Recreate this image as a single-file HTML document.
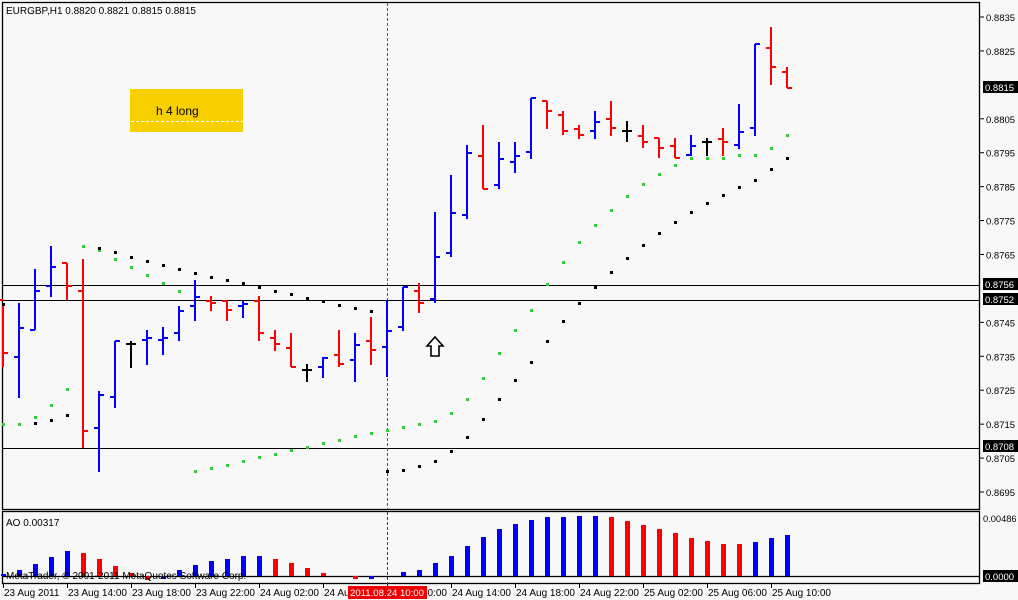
<!DOCTYPE html>
<html><head><meta charset="utf-8"><style>
html,body{margin:0;padding:0;background:#f8f8f8;}
svg{display:block;font-family:"Liberation Sans",sans-serif;font-size:10px;}
</style></head><body>
<svg id="c" width="1018" height="600" xmlns="http://www.w3.org/2000/svg">
<rect x="0" y="0" width="1018" height="600" fill="#f8f8f8"/>
<rect x="2.5" y="2.5" width="977" height="507" fill="none" stroke="#000" stroke-width="1.3"/>
<rect x="2.5" y="511.5" width="977" height="72" fill="none" stroke="#000" stroke-width="1.3"/>
<line x1="2" y1="576.5" x2="980" y2="576.5" stroke="#000" stroke-width="1.3"/>
<line x1="2" y1="285.5" x2="980" y2="285.5" stroke="#000"/>
<line x1="2" y1="300.5" x2="980" y2="300.5" stroke="#000"/>
<line x1="2" y1="448.5" x2="980" y2="448.5" stroke="#000"/>
<line x1="387.5" y1="3" x2="387.5" y2="509" stroke="#555" stroke-dasharray="3,2"/>
<line x1="387.5" y1="512" x2="387.5" y2="590" stroke="#e00" stroke-dasharray="3,2"/>
<text x="6" y="14" fill="#000">EURGBP,H1  0.8820 0.8821 0.8815 0.8815</text>
<rect x="130" y="89" width="113" height="43" fill="#f8d000"/>
<text x="156" y="115" font-size="12" fill="#000">h 4 long</text>
<line x1="131" y1="121.5" x2="243" y2="121.5" stroke="#fff" stroke-dasharray="3,2"/>
<path d="M435 337 L443 346 L439 346 L439 356 L431 356 L431 346 L427 346 Z" fill="#fff" stroke="#000" stroke-width="1.6"/>
<text x="6" y="518" dy="8" fill="#000">AO 0.00317</text>
<g id="bars"></g>
<text x="6" y="579" fill="#000" font-size="10">MetaTrader, © 2001-2011 MetaQuotes Software Corp.</text>
<g id="axis"></g>
<rect x="348" y="586" width="79" height="13" fill="#e00"/>
<text x="350" y="596" fill="#fff" font-size="9.6">2011.08.24 10:00</text>
</svg>
<script>
var NS="http://www.w3.org/2000/svg";
function el(p,t,a,txt){var e=document.createElementNS(NS,t);for(var k in a)e.setAttribute(k,a[k]);if(txt!=null)e.textContent=txt;p.appendChild(e);return e;}
var g=document.getElementById('bars'),ax=document.getElementById('axis');
var B=[[303,367,300,353,'r'],[303,398,357,328,'b'],[269,330,330,291,'b'],[246,297,286,267,'b'],[263,300,263,286,'r'],[259,448,291,431,'r'],[391,472,428,395,'b'],[341,408,397,341,'b'],[341,368,344,344,'k'],[330,365,340,338,'b'],[327,355,340,338,'b'],[306,341,333,311,'b'],[280,321,306,297,'b'],[296,311,301,303,'r'],[301,321,301,310,'r'],[301,318,306,304,'b'],[296,341,301,333,'r'],[330,351,338,344,'r'],[333,367,348,367,'r'],[364,382,370,370,'k'],[357,378,367,358,'b'],[330,367,355,364,'r'],[333,382,360,345,'b'],[317,365,341,350,'r'],[300,377,347,331,'b'],[287,331,327,287,'b'],[283,313,291,303,'r'],[212,303,299,257,'b'],[175,257,253,213,'b'],[145,219,215,153,'b'],[125,189,156,189,'r'],[142,189,185,159,'b'],[142,173,162,156,'b'],[98,159,152,98,'b'],[101,129,101,111,'r'],[111,135,115,131,'r'],[125,139,129,135,'r'],[111,139,131,122,'b'],[101,136,119,128,'r'],[121,142,131,131,'k'],[125,148,136,142,'r'],[138,158,138,148,'r'],[138,158,146,158,'r'],[135,156,155,146,'b'],[138,156,142,142,'k'],[128,156,139,142,'r'],[104,149,145,132,'b'],[44,136,128,44,'b'],[27,85,48,67,'r'],[67,88,72,88,'r']];
var col={r:'#ff0000',b:'#0000ff',k:'#000'};
B.forEach(function(b,i){var x=3+16*i,c=col[b[4]];
el(g,'rect',{x:x-1,y:b[0],width:2,height:b[1]-b[0],fill:c});
el(g,'rect',{x:x-5,y:b[2]-1,width:5,height:2,fill:c});
el(g,'rect',{x:x,y:b[3]-1,width:5,height:2,fill:c});});
var GR=[424,424,417,405,389,246,250,259,267,275,283,291,471,468,465,461,457,454,450,447,443,440,436,433,430,427,424,421,413,399,378,353,330,310,284,262,242,225,210,196,184,174,165,158,158,158,155,155,148,135];
var BK=[304,null,423,420,415,null,248,252,257,261,265,269,273,277,280,283,287,291,294,298,301,305,308,311,471,470,466,461,451,437,419,399,380,362,341,321,303,287,272,258,245,233,222,212,203,195,187,180,169,158];
GR.forEach(function(y,i){el(g,'rect',{x:2+16*i,y:y-1,width:3,height:3,fill:'#33cc33'});});
BK.forEach(function(y,i){if(y!=null)el(g,'rect',{x:2+16*i,y:y-1,width:3,height:3,fill:'#000'});});
var AO=[[574,'b'],[570,'b'],[564,'b'],[557,'b'],[551,'b'],[553,'r'],[559,'r'],[566,'r'],[573,'r'],[580,'r'],[579,'b'],[570,'b'],[565,'b'],[561,'b'],[559,'b'],[556,'b'],[556,'b'],[559,'r'],[563,'r'],[568,'r'],[573,'r'],null,[579,'r'],[579,'b'],null,[572,'b'],[570,'b'],[563,'b'],[556,'b'],[546,'b'],[537,'b'],[529,'b'],[524,'b'],[520,'b'],[517,'b'],[517,'b'],[516,'b'],[516,'b'],[517,'r'],[521,'r'],[525,'r'],[529,'r'],[533,'r'],[538,'r'],[541,'r'],[544,'r'],[544,'r'],[542,'b'],[538,'b'],[535,'b']];
AO.forEach(function(a,i){if(!a)return;var x=3+16*i,y1=Math.min(a[0],576),y2=Math.max(a[0],576);
el(g,'rect',{x:x-2,y:y1,width:5,height:y2-y1,fill:col[a[1]]});});
function py(p){return 17+(0.8835-p)*33929;}
[0.8835,0.8825,0.8805,0.8795,0.8785,0.8775,0.8765,0.8745,0.8735,0.8725,0.8715,0.8705,0.8695].forEach(function(p){var y=py(p);
el(ax,'line',{x1:980,y1:y,x2:984,y2:y,stroke:'#000'});el(ax,'text',{x:986,y:y+4,fill:'#000','font-size':'9.5'},p.toFixed(4));});
[[0.8815,87],[0.8756,284],[0.8752,299],[0.8708,446]].forEach(function(a){
el(ax,'rect',{x:983,y:a[1]-6,width:35,height:12,fill:'#000'});el(ax,'text',{x:985,y:a[1]+4,fill:'#fff','font-size':'9.5'},a[0].toFixed(4));});
el(ax,'text',{x:983,y:522,fill:'#000','font-size':'9.3'},'0.00486');
el(ax,'rect',{x:983,y:570,width:35,height:12,fill:'#000'});el(ax,'text',{x:985,y:580,fill:'#fff','font-size':'9.5'},'0.0000');
var TL=['23 Aug 2011','23 Aug 14:00','23 Aug 18:00','23 Aug 22:00','24 Aug 02:00','24 Aug 06:00','24 Aug 10:00','24 Aug 14:00','24 Aug 18:00','24 Aug 22:00','25 Aug 02:00','25 Aug 06:00','25 Aug 10:00'];
TL.forEach(function(t,i){var x=3+64*i;el(ax,'line',{x1:x+0.5,y1:584,x2:x+0.5,y2:588,stroke:'#000'});el(ax,'text',{x:x+1,y:596,fill:'#000'},t);});
</script>
</body></html>
